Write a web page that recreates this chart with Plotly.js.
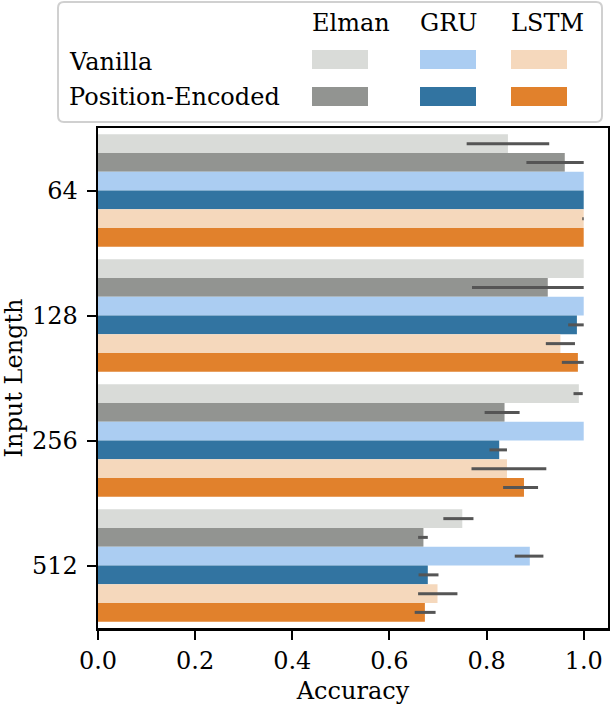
<!DOCTYPE html>
<html>
<head>
<meta charset="utf-8">
<script src="https://cdn.plot.ly/plotly-3.0.1.min.js"></script>
<style>html,body{margin:0;padding:0;background:#fff;}#chart{width:610px;height:710px;}</style>
</head>
<body>
<div id="chart"></div>
<script>
// ---- data ----
const inputLengths = ['64', '128', '256', '512'];
const tickVals = [0.0, 0.2, 0.4, 0.6, 0.8, 1.0];
const architectures = ['Elman', 'GRU', 'LSTM'];
const variants = ['Vanilla', 'Position-Encoded'];

const elmanVanilla    = [0.844, 1.000, 0.990, 0.750];
const elmanVanillaLo  = [0.759, 1.000, 0.979, 0.711];
const elmanVanillaHi  = [0.929, 1.000, 0.998, 0.773];

const elmanPE         = [0.961, 0.926, 0.837, 0.670];
const elmanPELo       = [0.882, 0.770, 0.796, 0.659];
const elmanPEHi       = [1.000, 1.000, 0.868, 0.679];

const gruVanilla      = [1.000, 1.000, 1.000, 0.889];
const gruVanillaLo    = [1.000, 1.000, 1.000, 0.858];
const gruVanillaHi    = [1.000, 1.000, 1.000, 0.917];

const gruPE           = [1.000, 0.986, 0.826, 0.679];
const gruPELo         = [1.000, 0.968, 0.806, 0.660];
const gruPEHi         = [1.000, 1.000, 0.842, 0.701];

const lstmVanilla     = [1.000, 0.952, 0.842, 0.699];
const lstmVanillaLo   = [0.997, 0.922, 0.769, 0.659];
const lstmVanillaHi   = [1.000, 0.982, 0.923, 0.740];

const lstmPE          = [1.000, 0.988, 0.877, 0.673];
const lstmPELo        = [1.000, 0.955, 0.834, 0.652];
const lstmPEHi        = [1.000, 1.000, 0.906, 0.695];

// ---- styling ----
const FONT = 'DejaVu Serif';
const FS = 24;
const colors = {
  elmanVanilla: '#d9dbd8', elmanPE: '#929491',
  gruVanilla: '#abcdf2', gruPE: '#3274a1',
  lstmVanilla: '#f5d8bc', lstmPE: '#e1812c'
};
const ERR_COLOR = '#555555';

function mkTrace(name, vals, lo, hi, color) {
  return {
    type: 'bar', orientation: 'h', name: name,
    y: inputLengths, x: vals,
    marker: {color: color, line: {width: 0}},
    error_x: {
      type: 'data', symmetric: false,
      array: vals.map((v, i) => hi[i] - v),
      arrayminus: vals.map((v, i) => v - lo[i]),
      color: ERR_COLOR, thickness: 3, width: 0
    },
    showlegend: false, hoverinfo: 'x+y'
  };
}

const traces = [
  mkTrace('Elman Vanilla', elmanVanilla, elmanVanillaLo, elmanVanillaHi, colors.elmanVanilla),
  mkTrace('Elman Position-Encoded', elmanPE, elmanPELo, elmanPEHi, colors.elmanPE),
  mkTrace('GRU Vanilla', gruVanilla, gruVanillaLo, gruVanillaHi, colors.gruVanilla),
  mkTrace('GRU Position-Encoded', gruPE, gruPELo, gruPEHi, colors.gruPE),
  mkTrace('LSTM Vanilla', lstmVanilla, lstmVanillaLo, lstmVanillaHi, colors.lstmVanilla),
  mkTrace('LSTM Position-Encoded', lstmPE, lstmPELo, lstmPEHi, colors.lstmPE)
];

// layout geometry (pixels)
const W = 610, H = 710;
const M = {l: 98, r: 2, t: 128, b: 82};
const PW = W - M.l - M.r, PH = H - M.t - M.b;
const px = x => (x - M.l) / PW;
const py = y => (H - M.b - y) / PH;

// legend box (rounded rect)
const bx0 = 58, bx1 = 602, by0 = 2, by1 = 122, rr = 6;
const boxPath =
  `M ${px(bx0 + rr)} ${py(by0)} L ${px(bx1 - rr)} ${py(by0)} Q ${px(bx1)} ${py(by0)} ${px(bx1)} ${py(by0 + rr)} ` +
  `L ${px(bx1)} ${py(by1 - rr)} Q ${px(bx1)} ${py(by1)} ${px(bx1 - rr)} ${py(by1)} ` +
  `L ${px(bx0 + rr)} ${py(by1)} Q ${px(bx0)} ${py(by1)} ${px(bx0)} ${py(by1 - rr)} ` +
  `L ${px(bx0)} ${py(by0 + rr)} Q ${px(bx0)} ${py(by0)} ${px(bx0 + rr)} ${py(by0)} Z`;

const shapes = [{
  type: 'path', xref: 'paper', yref: 'paper', path: boxPath,
  line: {color: '#d0d0d0', width: 2}, fillcolor: 'rgba(255,255,255,0.9)', layer: 'above'
}];
const annotations = [];

const colX = [312, 420, 511];
const swW = 56;
const rowY = [[50, 69], [87, 106]];
const rowTextY = [62, 97];
const swatchColors = [
  [colors.elmanVanilla, colors.gruVanilla, colors.lstmVanilla],
  [colors.elmanPE, colors.gruPE, colors.lstmPE]
];

architectures.forEach((a, j) => {
  annotations.push({
    xref: 'paper', yref: 'paper', x: px(colX[j] - 2), y: py(23),
    xanchor: 'left', yanchor: 'middle', showarrow: false, text: a,
    font: {family: FONT, size: FS, color: '#000'}
  });
});
variants.forEach((v, i) => {
  annotations.push({
    xref: 'paper', yref: 'paper', x: px(67), y: py(rowTextY[i]),
    xanchor: 'left', yanchor: 'middle', showarrow: false, text: v,
    font: {family: FONT, size: FS, color: '#000'}
  });
  architectures.forEach((a, j) => {
    shapes.push({
      type: 'rect', xref: 'paper', yref: 'paper',
      x0: px(colX[j]), x1: px(colX[j] + swW), y0: py(rowY[i][1]), y1: py(rowY[i][0]),
      line: {width: 0}, fillcolor: swatchColors[i][j], layer: 'above'
    });
  });
});

const layout = {
  width: W, height: H,
  margin: M,
  paper_bgcolor: '#fff', plot_bgcolor: '#fff',
  barmode: 'group', bargap: 0.1, bargroupgap: 0,
  font: {family: FONT, size: FS, color: '#000'},
  xaxis: {
    range: [0, 1.05], tickvals: tickVals, tickformat: '.1f',
    ticks: 'outside', ticklen: 9, tickwidth: 2, tickcolor: '#000',
    ticklabelstandoff: 1,
    showline: true, linewidth: 2.5, linecolor: '#000', mirror: true,
    showgrid: false, zeroline: false,
    title: {text: 'Accuracy', font: {family: FONT, size: FS}, standoff: 8},
    tickfont: {family: FONT, size: FS}
  },
  yaxis: {
    type: 'category', autorange: 'reversed',
    ticks: 'outside', ticklen: 9, tickwidth: 2, tickcolor: '#000',
    ticklabelstandoff: 4,
    showline: true, linewidth: 2.5, linecolor: '#000', mirror: true,
    showgrid: false, zeroline: false,
    title: {text: 'Input Length', font: {family: FONT, size: FS}, standoff: 8},
    tickfont: {family: FONT, size: FS}
  },
  shapes: shapes,
  annotations: annotations
};

Plotly.newPlot('chart', traces, layout, {displayModeBar: false, staticPlot: true});
</script>
</body>
</html>
